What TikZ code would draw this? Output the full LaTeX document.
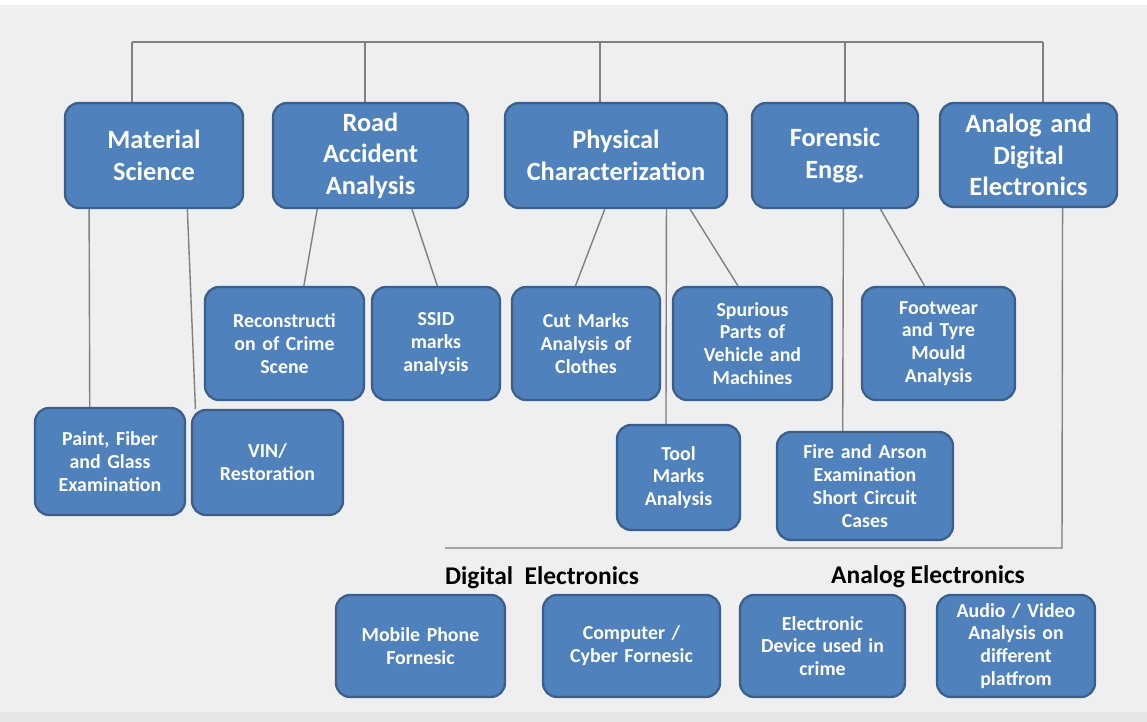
\documentclass[tikz,border=0pt]{standalone}
\usepackage{fontspec}
\setmainfont{Carlito}
\usetikzlibrary{calc}
\definecolor{bg}{HTML}{EFEFEF}
\definecolor{strip}{HTML}{E3E5E7}
\definecolor{boxfill}{HTML}{4F81BD}
\definecolor{boxline}{HTML}{3B5F8C}
\definecolor{connc}{HTML}{808080}
\tikzset{
  blk/.style={draw=boxline, line width=1.3pt, fill=boxfill, rounded corners=8pt,
    text=white, font=\bfseries, align=center, inner sep=2pt},
  big/.style={blk, font=\fontsize{15}{18}\selectfont\bfseries},
  small/.style={blk, font=\fontsize{11.3}{13}\selectfont\bfseries},
  conn/.style={draw=connc, line width=0.8pt},
  head/.style={font=\fontsize{14.5}{17}\selectfont\bfseries, text=black}
}
\newcommand\bx[7]{\node[#1, minimum width={(#5-#3)*0.02cm}, minimum height={(#6-#4)*0.02cm}, text width={(#5-#3)*0.02cm-8pt}] (#2) at ({(#3+#5)/2},{(#4+#6)/2}) {#7};}
\begin{document}
\begin{tikzpicture}[x=0.02cm, y=-0.02cm]
\fill[bg] (0,0) rectangle (1147,722);
\fill[white] (0,0) rectangle (1147,5);
\fill[strip] (0,712) rectangle (1147,722);
\useasboundingbox (0,0) rectangle (1147,722);

% top row
\bx{big}{ms}{65}{103}{243}{208}{Material\\Science}
\bx{big}{ra}{273}{103}{468}{208}{Road\\Accident\\Analysis}
\bx{big}{pc}{505}{103}{727}{208}{Physical\\Characterization}
\bx{big}{fe}{752}{103}{918}{208}{Forensic\\Engg.}
\bx{big}{ad}{940}{103}{1117}{207}{Analog and\\Digital\\Electronics}

% second row
\bx{small}{rc}{205}{287}{364}{400}{Reconstructi\\on of Crime\\Scene}
\bx{small}{ss}{372}{287}{500}{400}{SSID\\marks\\analysis}
\bx{small}{cm}{512}{287}{660}{400}{Cut Marks\\Analysis of\\Clothes}
\bx{small}{sp}{673}{287}{832}{400}{Spurious\\Parts of\\Vehicle and\\Machines}
\bx{small}{fw}{862}{287}{1015}{400}{Footwear\\and Tyre\\Mould\\Analysis}

% third row
\bx{small}{pf}{35}{408}{185}{515}{Paint, Fiber\\and Glass\\Examination}
\bx{small}{vn}{192}{410}{343}{515}{VIN/\\Restoration}
\bx{small}{tm}{617}{425}{740}{530}{Tool\\Marks\\Analysis}
\bx{small}{fa}{777}{432}{953}{540}{Fire and Arson\\Examination\\Short Circuit\\Cases}

% bottom row
\bx{small}{mp}{336}{595}{505}{697}{Mobile Phone\\Fornesic}
\bx{small}{cc}{543}{595}{720}{697}{Computer /\\Cyber Fornesic}
\bx{small}{ed}{740}{595}{905}{697}{Electronic\\Device used in\\crime}
\bx{small}{av}{937}{595}{1095}{697}{Audio / Video\\Analysis on\\different\\platfrom}

\node[head] (dh) at (542,578) {Digital\ \ Electronics};
\node[head] (ah) at (928,577) {Analog Electronics};

% top bus
\coordinate (t1) at (132,42);
\coordinate (t2) at (365,42);
\coordinate (t3) at (600,42);
\coordinate (t4) at (845,42);
\coordinate (t5) at (1043,42);
\draw[conn] (t1) -- (t5);
\draw[conn] (t1) -- (t1 |- ms.north);
\draw[conn] (t2) -- (t2 |- ra.north);
\draw[conn] (t3) -- (t3 |- pc.north);
\draw[conn] (t4) -- (t4 |- fe.north);
\draw[conn] (t5) -- (t5 |- ad.north);

% children
\draw[conn] ($(ms.south west)!0.14!(ms.south east)$) -- ($(pf.north west)!0.367!(pf.north east)$);
\draw[conn] ($(ms.south west)!0.685!(ms.south east)$) -- ($(vn.north west)!0.03!(vn.north east)$);
\draw[conn] ($(ra.south west)!0.23!(ra.south east)$) -- ($(rc.north west)!0.62!(rc.north east)$);
\draw[conn] ($(ra.south west)!0.71!(ra.south east)$) -- ($(ss.north west)!0.51!(ss.north east)$);
\draw[conn] ($(pc.south west)!0.45!(pc.south east)$) -- ($(cm.north west)!0.43!(cm.north east)$);
\draw[conn] ($(pc.south west)!0.725!(pc.south east)$) -- ($(tm.north west)!0.40!(tm.north east)$);
\draw[conn] ($(pc.south west)!0.83!(pc.south east)$) -- ($(sp.north west)!0.41!(sp.north east)$);
\draw[conn] ($(fe.south west)!0.55!(fe.south east)$) -- ($(fa.north west)!0.375!(fa.north east)$);
\draw[conn] ($(fe.south west)!0.77!(fe.south east)$) -- ($(fw.north west)!0.41!(fw.north east)$);

% analog/digital bracket
\coordinate (b1) at (1062,548);
\coordinate (b2) at (445,548);
\draw[conn] ($(ad.south west)!0.69!(ad.south east)$) -- (b1) -- (b2);
\end{tikzpicture}
\end{document}
